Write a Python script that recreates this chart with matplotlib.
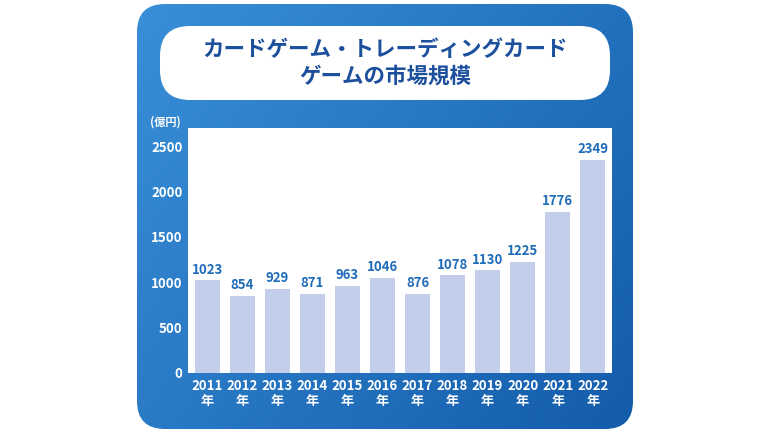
import numpy as np
import matplotlib
matplotlib.use("Agg")
import matplotlib.pyplot as plt
from matplotlib.patches import FancyBboxPatch

plt.rcParams['font.family'] = 'Noto Sans CJK JP'

years = ['2011', '2012', '2013', '2014', '2015', '2016', '2017', '2018', '2019', '2020', '2021', '2022']
values = [1023, 854, 929, 871, 963, 1046, 876, 1078, 1130, 1225, 1776, 2349]
yticks = [0, 500, 1000, 1500, 2000, 2500]

W, H = 770, 433
fig = plt.figure(figsize=(7.7, 4.33), dpi=100)

# background layer in pixel coordinates
bg = fig.add_axes([0, 0, 1, 1])
bg.set_xlim(0, W)
bg.set_ylim(H, 0)
bg.axis('off')

panel = FancyBboxPatch((137, 4), 496, 425, boxstyle="round,pad=0,rounding_size=28",
                       fc='none', ec='none', transform=bg.transData)
bg.add_patch(panel)
gx = np.linspace(0, 1, 200)
gy = np.linspace(0, 1, 200)
GX, GY = np.meshgrid(gx, gy)
t = 0.6 * GX + 0.4 * GY
c0 = np.array([0x3a, 0x8f, 0xd8]) / 255
c1 = np.array([0x13, 0x5c, 0xab]) / 255
img = c0[None, None, :] * (1 - t[..., None]) + c1[None, None, :] * t[..., None]
im = bg.imshow(img, extent=(137, 633, 429, 4), aspect='auto', zorder=1)
im.set_clip_path(panel)

title_box = FancyBboxPatch((160, 26), 450, 74, boxstyle="round,pad=0,rounding_size=30",
                           fc='white', ec='none', zorder=2)
bg.add_patch(title_box)
bg.text(385, 63, 'カードゲーム・トレーディングカード\nゲームの市場規模', ha='center', va='center',
        fontsize=15.5, fontweight='bold', color='#1c4f9c', linespacing=1.35, zorder=3)
bg.text(165, 122, '(億円)', ha='center', va='center', fontsize=8, fontweight='bold',
        color='white', zorder=3)

ax = fig.add_axes([188 / W, (H - 373) / H, 424 / W, 245 / H])
ax.set_facecolor('white')
x = np.arange(len(years))
ax.bar(x, values, width=0.7, color='#c3cfea', zorder=2)
for xi, v in zip(x, values):
    ax.text(xi, v + 40, str(v), ha='center', va='bottom', fontsize=9.5,
            fontweight='bold', color='#1f6cb8')
ax.set_xlim(-0.55, len(years) - 0.45)
ax.set_ylim(0, 2700)
ax.set_yticks(yticks)
ax.set_yticklabels([str(v) for v in yticks], color='white', fontsize=9.5, fontweight='bold')
ax.set_xticks(x)
ax.set_xticklabels([f'{y}\n年' for y in years], color='white', fontsize=9.5,
                   fontweight='bold', linespacing=1.1)
ax.tick_params(length=0, pad=4)
for s in ax.spines.values():
    s.set_visible(False)

fig.savefig('out.png', dpi=100)
